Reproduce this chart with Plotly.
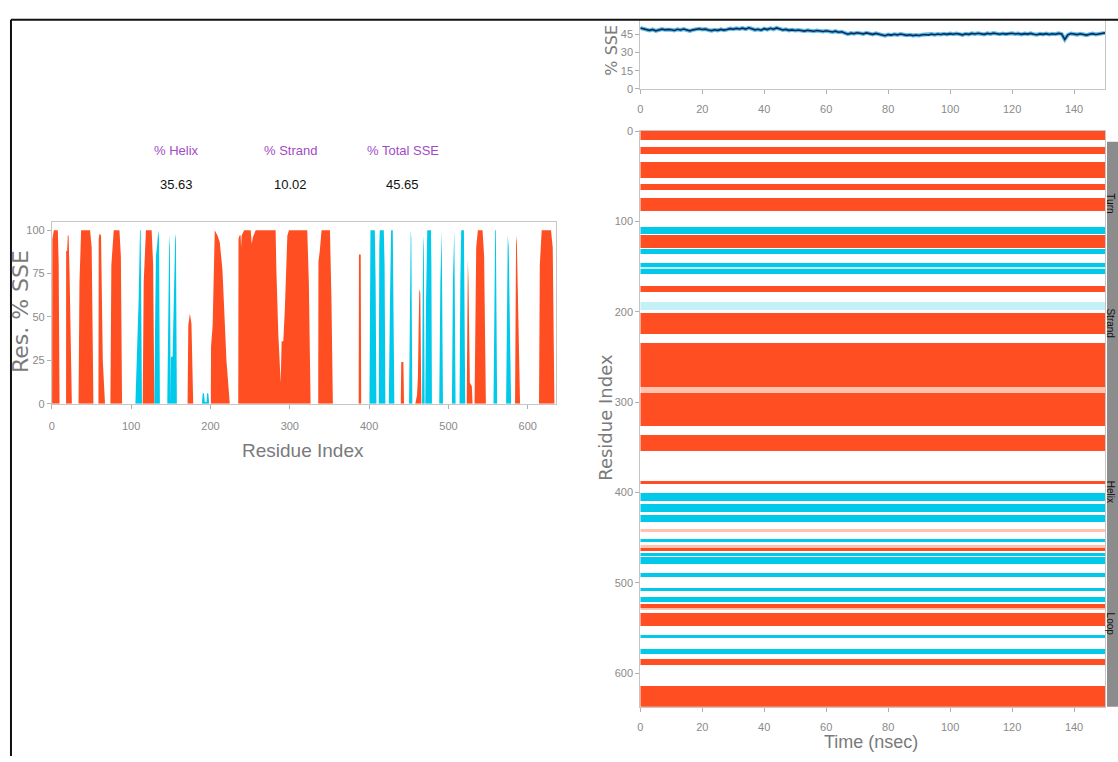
import plotly.graph_objects as go

W, H = 1118, 762

# ---------------- residue-level SSE profile (outline vertices: residue, % of frames)
helix_res = [0.3, 0.6, 2.5, 7.5, 8.6, 9.7,
             17.9, 18.0, 19.2, 20.1, 21.1, 22.3, 25.2,
             33.6, 34.8, 36.9, 48.2, 50.2, 52.4,
             58.7, 59.1, 60.0, 62.0, 63.1, 64.2, 67.0,
             73.8, 75.0, 78.0, 85.2, 87.0, 88.5,
             114.5, 115.8, 117.3, 118.6, 125.8, 127.7, 129.2,
             171.1, 172.0, 174.0, 176.0, 177.3, 178.2,
             200.4, 200.7, 202.7, 205.4, 208.8, 211.7, 215.1, 217.2, 220.1, 224.3,
             235.0, 235.3, 236.5, 238.0, 238.6, 239.3, 242.4, 250.7, 252.0, 253.4, 257.0,
             282.1, 283.0, 285.5, 288.5, 289.7, 291.8, 293.8, 296.9, 299.0, 322.0, 324.0, 326.2,
             335.8, 336.1, 337.8, 340.0, 350.6, 352.5, 354.3,
             386.8, 387.2, 389.4, 390.0,
             439.9, 440.5, 443.2, 444.0,
             458.2, 460.4, 461.5, 462.5, 463.3, 464.5, 465.8,
             523.0, 523.6, 524.5, 525.3, 526.2, 527.0, 529.5, 530.4,
             532.9, 535.0, 537.1, 543.0, 545.0, 546.5, 547.2,
             584.0, 584.6, 585.3, 586.3, 587.3, 588.3, 589.3, 590.3,
             614.2, 615.2, 617.6, 629.3, 631.5, 633.6]
helix_pct = [0, 95, 100, 100, 80, 0,
             0, 88, 88, 97, 97, 75, 0,
             0, 70, 100, 100, 90, 0,
             0, 95, 98, 97, 50, 25, 0,
             0, 80, 100, 100, 85, 0,
             0, 70, 92, 100, 100, 80, 0,
             0, 45, 52, 46, 20, 0,
             0, 33, 45, 100, 97, 93, 77, 52, 25, 0,
             0, 95, 97, 97, 90, 97, 100, 100, 92, 96, 100,
             100, 78, 40, 12, 36, 36, 55, 97, 100, 100, 70, 0,
             0, 82, 88, 100, 100, 60, 0,
             0, 86, 86, 0,
             0, 24, 24, 0,
             0, 5, 15, 45, 66, 64, 0,
             0, 70, 83, 70, 30, 12, 10, 0,
             0, 90, 100, 100, 85, 30, 0,
             0, 95, 97, 92, 70, 45, 20, 0,
             0, 80, 100, 100, 90, 0]

strand_res = [105.3, 107.8, 109.4, 111.1, 112.0, 113.6,
              129.2, 130.0, 131.2, 132.8, 134.2, 135.2, 136.2,
              145.5, 147.0, 148.0, 148.8, 149.6,
              149.8, 150.1, 152.2, 153.8, 155.6, 156.4, 157.6,
              189.1, 190.2, 191.8, 192.8, 195.0, 195.8, 197.2, 198.4,
              400.4, 400.9, 401.7, 407.2, 408.2, 409.2,
              412.2, 412.8, 413.4, 418.5, 419.5, 420.5,
              424.8, 426.3, 427.7, 429.8, 430.8, 431.8,
              450.3, 451.6, 452.5, 453.2, 454.5,
              466.7, 467.5, 468.3, 469.0, 470.0,
              470.8, 471.8, 473.3, 478.0, 478.5, 479.2,
              488.4, 489.8, 490.6, 491.5, 493.1,
              504.4, 505.6, 506.5, 507.4, 509.0,
              514.0, 515.0, 516.1, 519.5, 520.3, 521.2,
              556.8, 558.0, 558.9, 559.8, 561.4,
              572.7, 574.0, 574.8, 576.0, 577.3, 579.0]
strand_pct = [0, 30, 60, 100, 100, 0,
              0, 40, 85, 92, 100, 95, 0,
              0, 70, 97, 90, 0,
              0, 27, 27, 60, 98, 95, 0,
              0, 6, 6, 1, 1, 6, 6, 0,
              0, 90, 100, 100, 70, 0,
              0, 90, 100, 100, 80, 0,
              0, 60, 100, 100, 60, 0,
              0, 60, 100, 95, 0,
              0, 60, 97, 90, 0,
              0, 60, 100, 100, 80, 0,
              0, 70, 100, 100, 0,
              0, 70, 100, 100, 0,
              0, 70, 100, 100, 70, 0,
              0, 70, 100, 100, 0,
              0, 70, 97, 90, 60, 0]

summary_labels = ["% Helix", "% Strand", "% Total SSE"]
summary_values = ["35.63", "10.02", "45.65"]

# ---------------- SSE over the trajectory
sse_time_ns = list(range(0, 151))
sse_total_pct = [50.2, 49.5, 48.7, 48.3, 49.0, 47.9, 48.6, 49.3, 48.7, 49.1,
                 48.8, 48.2, 49.2, 48.6, 49.4, 48.5, 47.9, 48.7, 49.1, 49.6,
                 49.0, 49.3, 48.6, 48.1, 48.8, 48.3, 49.1, 48.5, 49.0, 49.7,
                 49.2, 49.9, 49.4, 50.1, 49.3, 50.4, 49.6, 48.7, 49.2, 48.4,
                 49.7, 48.9, 50.0, 49.2, 50.3, 49.5, 48.6, 49.1, 48.3, 48.7,
                 48.2, 48.6, 48.0, 47.7, 48.3, 47.9, 47.6, 48.2, 47.7, 47.3,
                 48.0, 47.5, 47.0, 47.6, 46.7, 47.1, 45.8, 45.1, 46.0, 45.6,
                 46.3, 45.9, 45.4, 46.2, 45.5, 45.0, 45.8, 45.3, 44.5, 43.9,
                 44.8, 44.4, 45.1, 44.6, 45.3, 44.8, 44.2, 44.6, 44.0, 44.5,
                 44.1, 44.6, 44.9, 44.4, 45.2, 44.7, 45.3, 44.9, 45.5, 45.0,
                 45.6, 45.1, 45.7, 45.2, 44.6, 45.5, 45.0, 45.8, 45.3, 45.9,
                 45.4, 45.0, 45.8, 45.3, 46.0, 45.5, 45.1, 45.7, 45.2, 45.6,
                 45.9, 45.3, 45.7, 45.0, 45.6, 45.2, 45.8, 45.1, 44.7, 45.4,
                 45.0, 45.6, 44.9, 45.5, 45.1, 45.8, 45.3, 40.8, 44.6, 45.7,
                 45.2, 44.8, 45.5, 44.9, 44.4, 45.1, 45.6, 44.9, 45.3, 45.8,
                 46.2]

# ---------------- per-residue SSE assignment bands (start inclusive, end exclusive)
n_residues = 637
helix_bands = [(0, 10), (18, 25), (34, 52), (59, 65), (74, 88), (115, 129),
               (171, 178), (201, 224), (235, 283), (290, 326), (336, 354),
               (387, 390), (461, 465), (523, 527), (533, 547), (584, 590),
               (614, 637)]
helix_partial_bands = [(283, 290), (440, 444), (458, 461), (527, 530)]
strand_bands = [(106, 114), (130, 136), (146, 150), (153, 158), (400, 409),
                (412, 421), (425, 432), (451, 454), (467, 470), (471, 479),
                (489, 493), (505, 509), (515, 521), (557, 561), (573, 578)]
strand_partial_bands = [(150, 153), (189, 198)]
track_labels = ["Turn", "Strand", "Helix", "Loop"]

HELIX = "#FF4E21"
STRAND = "#00C9EA"
HELIX_PALE = "#FFC3AF"
STRAND_PALE = "#C4F0F8"
GREY = "#8a8a8a"
SANS = "Liberation Sans, Arial"


def px_x(p):
    return p / W


def px_y(p):
    return 1 - p / H


codes = [0] * n_residues
for code, bands in ((1, helix_bands), (2, strand_bands),
                    (3, helix_partial_bands), (4, strand_partial_bands)):
    for a, b in bands:
        for r in range(a, b):
            codes[r] = code
z = [[c] for c in codes]
y_edges = list(range(n_residues + 1))

fig = go.Figure()

# residue profile
fig.add_trace(go.Scatter(x=helix_res, y=helix_pct, mode="lines", fill="tozeroy",
                         line=dict(color=HELIX, width=0), fillcolor=HELIX,
                         xaxis="x", yaxis="y", showlegend=False))
fig.add_trace(go.Scatter(x=strand_res, y=strand_pct, mode="lines", fill="tozeroy",
                         line=dict(color=STRAND, width=0), fillcolor=STRAND,
                         xaxis="x", yaxis="y", showlegend=False))

# total SSE vs time
fig.add_trace(go.Scatter(x=sse_time_ns, y=sse_total_pct, mode="lines",
                         line=dict(color="#5FBDE6", width=4),
                         xaxis="x2", yaxis="y2", showlegend=False))
fig.add_trace(go.Scatter(x=sse_time_ns, y=sse_total_pct, mode="lines",
                         line=dict(color="#0B2B5A", width=1.6),
                         xaxis="x2", yaxis="y2", showlegend=False))

# residue x time assignment map
cs = [[0, "#FFFFFF"], [0.125, "#FFFFFF"],
      [0.125, HELIX], [0.375, HELIX],
      [0.375, STRAND], [0.625, STRAND],
      [0.625, HELIX_PALE], [0.875, HELIX_PALE],
      [0.875, STRAND_PALE], [1, STRAND_PALE]]
fig.add_trace(go.Heatmap(z=z, x=[0, 150], y=y_edges, zmin=-0.5, zmax=4.5,
                         colorscale=cs, showscale=False, hoverinfo="skip",
                         xaxis="x3", yaxis="y3"))

tickfont = dict(family=SANS, size=11, color=GREY)
axis_common = dict(showline=True, linecolor="#c6c6c6", linewidth=1, mirror=True,
                   ticks="outside", ticklen=4, tickcolor="#b0b0b0",
                   showgrid=False, zeroline=False, tickfont=tickfont)

fig.update_layout(
    width=W, height=H, margin=dict(l=0, r=0, t=0, b=0),
    paper_bgcolor="white", plot_bgcolor="white",
    xaxis=dict(axis_common, domain=[px_x(49), px_x(554)], range=[0, 635],
               tickvals=[0, 100, 200, 300, 400, 500, 600], anchor="y",
               ticklabelstandoff=8),
    yaxis=dict(axis_common, domain=[px_y(404), px_y(219)], range=[0, 105],
               tickvals=[0, 25, 50, 75, 100], anchor="x"),
    xaxis2=dict(axis_common, domain=[px_x(639), px_x(1105)], range=[0, 150],
                tickvals=[0, 20, 40, 60, 80, 100, 120, 140], anchor="y2",
                ticklabelstandoff=6),
    yaxis2=dict(axis_common, domain=[px_y(84.3), px_y(14)], range=[0, 57],
                tickvals=[0, 15, 30, 45], anchor="x2"),
    xaxis3=dict(axis_common, domain=[px_x(639), px_x(1105)], range=[0, 150],
                tickvals=[0, 20, 40, 60, 80, 100, 120, 140], anchor="y3",
                ticklabelstandoff=6),
    yaxis3=dict(axis_common, domain=[px_y(712), px_y(127)], range=[n_residues, 0],
                tickvals=[0, 100, 200, 300, 400, 500, 600], anchor="x3"),
)


def label(x, y, text, size, color="#7a7a7a", family=SANS, angle=0):
    return dict(x=px_x(x), y=px_y(y), xref="paper", yref="paper", text=text,
                xanchor="center", yanchor="middle", textangle=angle,
                showarrow=False, font=dict(family=family, size=size, color=color))


ann = []
for lab, val, cx in zip(summary_labels, summary_values, [174, 288, 401]):
    ann.append(label(cx, 147, lab, 13, color="#A24BC6"))
    ann.append(label(cx, 181, val, 13, color="#111111"))

ann.append(label(301, 452, "Residue Index", 19))
ann.append(label(17, 310, "Res. % SSE", 22, family="DejaVu Sans", angle=-90))
ann.append(label(870, 748, "Time (nsec)", 18))
ann.append(label(604, 418, "Residue Index", 18, family="DejaVu Sans", angle=-90))
ann.append(label(610, 45, "% SSE", 16, family="DejaVu Sans", angle=-90))

# SSE type key along the right edge of the map
for lab, cy in zip(track_labels, [200, 322, 493, 628]):
    ann.append(dict(x=1, y=px_y(cy), xref="paper", yref="paper", text=lab,
                    xanchor="right", yanchor="middle", textangle=90, showarrow=False,
                    font=dict(family=SANS, size=10, color="#111111")))
fig.update_layout(annotations=ann)

fig.update_layout(shapes=[
    dict(type="rect", xref="paper", yref="paper", x0=px_x(1107), x1=1,
         y0=px_y(712), y1=px_y(138), fillcolor="#8c8c8c", line=dict(width=0), layer="below"),
    dict(type="line", xref="paper", yref="paper", x0=px_x(8), x1=1,
         y0=px_y(14), y1=px_y(14), line=dict(color="#111111", width=2)),
    dict(type="line", xref="paper", yref="paper", x0=px_x(8), x1=px_x(8),
         y0=px_y(14), y1=0, line=dict(color="#111111", width=2)),
])

fig.write_html("out.html")
